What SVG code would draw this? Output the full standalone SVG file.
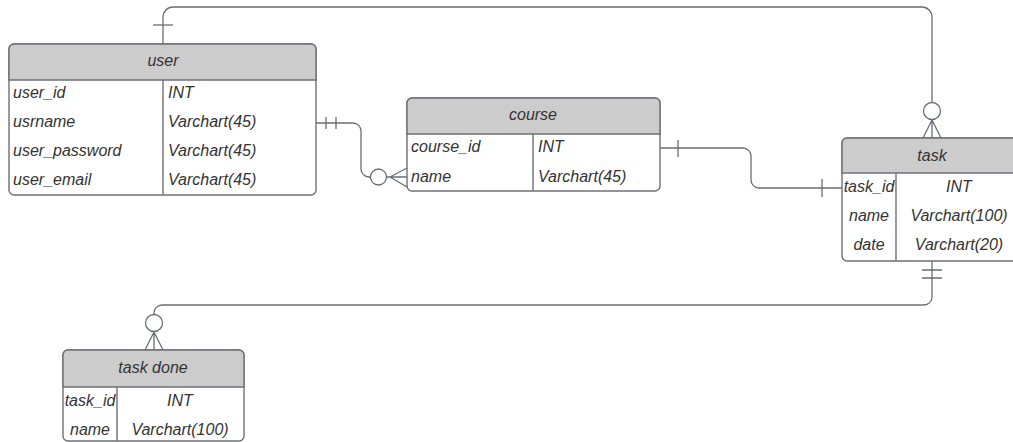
<svg xmlns="http://www.w3.org/2000/svg" width="1013" height="442" viewBox="0 0 1013 442">
  <style>
    .frame { fill: #ffffff; stroke: #6d7077; stroke-width: 1.4; }
    .head { fill: #cccccc; stroke: #6d7077; stroke-width: 1.4; }
    .sep { stroke: #6d7077; stroke-width: 1.4; fill: none; }
    .t { font-family: "Liberation Sans", Arial, sans-serif; font-size: 16px; font-style: italic; fill: #333333; }
    .c { text-anchor: middle; }
    .wire { fill: none; stroke: #6b6e76; stroke-width: 1.3; }
    .ring { fill: #ffffff; stroke: #6b6e76; stroke-width: 1.3; }
  </style>

  <!-- relationship lines -->
  <g id="connectors">
    <!-- user (one) to task (many) across the top -->
    <path class="wire" d="M163,44 V17 A10,10 0 0 1 173,7 H922 A10,10 0 0 1 932,17 V102.5"/>
    <path class="wire" d="M153,25 H173"/>
    <circle class="ring" cx="932" cy="111" r="8.5"/>
    <path class="wire" d="M932,119.5 V138 M932,120 L923,138 M932,120 L941,138"/>

    <!-- user (one and only one) to course (zero or many) -->
    <path class="wire" d="M316,123 H353 A8,8 0 0 1 361,131 V169 A8,8 0 0 0 369,177 H370.5"/>
    <path class="wire" d="M326,117 V129 M336,117 V129"/>
    <circle class="ring" cx="378.5" cy="177" r="8"/>
    <path class="wire" d="M386.5,177 H407 M390,177 L407,168 M390,177 L407,187"/>

    <!-- course (one) to task (one) -->
    <path class="wire" d="M660,148 H743 A8,8 0 0 1 751,156 V180 A8,8 0 0 0 759,188 H842"/>
    <path class="wire" d="M678,140 V157 M822,179 V197"/>

    <!-- task (one and only one) to task done (zero or many) -->
    <path class="wire" d="M932,261 V297 A8,8 0 0 1 924,305 H162 A8,8 0 0 0 154,313 V314.5"/>
    <path class="wire" d="M922,270 H942 M922,278 H942"/>
    <circle class="ring" cx="154" cy="323" r="8.5"/>
    <path class="wire" d="M154,331.5 V350 M154,332 L145,350 M154,332 L163,350"/>
  </g>

  <!-- user table -->
  <g id="user">
    <rect class="frame" x="9" y="44" width="307" height="151" rx="5"/>
    <path class="head" d="M9,80 V49 A5,5 0 0 1 14,44 H311 A5,5 0 0 1 316,49 V80 Z"/>
    <path class="sep" d="M163,80 V195"/>
    <text class="t c" x="163" y="66">user</text>
    <text class="t" x="13" y="98">user_id</text>
    <text class="t" x="168" y="98">INT</text>
    <text class="t" x="13" y="127">usrname</text>
    <text class="t" x="168" y="127">Varchart(45)</text>
    <text class="t" x="13" y="156">user_password</text>
    <text class="t" x="168" y="156">Varchart(45)</text>
    <text class="t" x="13" y="185">user_email</text>
    <text class="t" x="168" y="185">Varchart(45)</text>
  </g>

  <!-- course table -->
  <g id="course">
    <rect class="frame" x="407" y="98" width="253" height="93" rx="5"/>
    <path class="head" d="M407,134 V103 A5,5 0 0 1 412,98 H655 A5,5 0 0 1 660,103 V134 Z"/>
    <path class="sep" d="M533,134 V191"/>
    <text class="t c" x="533" y="120">course</text>
    <text class="t" x="411" y="152">course_id</text>
    <text class="t" x="538" y="152">INT</text>
    <text class="t" x="411" y="182">name</text>
    <text class="t" x="538" y="182">Varchart(45)</text>
  </g>

  <!-- task table (runs past the right edge) -->
  <g id="task">
    <rect class="frame" x="842" y="138" width="184" height="123" rx="5"/>
    <path class="head" d="M842,173 V143 A5,5 0 0 1 847,138 H1021 A5,5 0 0 1 1026,143 V173 Z"/>
    <path class="sep" d="M896,173 V261"/>
    <text class="t c" x="932" y="161">task</text>
    <text class="t c" x="869" y="192">task_id</text>
    <text class="t c" x="959" y="192">INT</text>
    <text class="t c" x="869" y="221">name</text>
    <text class="t c" x="959" y="221">Varchart(100)</text>
    <text class="t c" x="869" y="250">date</text>
    <text class="t c" x="959" y="250">Varchart(20)</text>
  </g>

  <!-- task done table -->
  <g id="task-done">
    <rect class="frame" x="63" y="350" width="181" height="91" rx="5"/>
    <path class="head" d="M63,387 V355 A5,5 0 0 1 68,350 H239 A5,5 0 0 1 244,355 V387 Z"/>
    <path class="sep" d="M117,387 V441"/>
    <text class="t c" x="153" y="373">task done</text>
    <text class="t c" x="90" y="406">task_id</text>
    <text class="t c" x="180" y="406">INT</text>
    <text class="t c" x="90" y="435">name</text>
    <text class="t c" x="180" y="435">Varchart(100)</text>
  </g>
</svg>
